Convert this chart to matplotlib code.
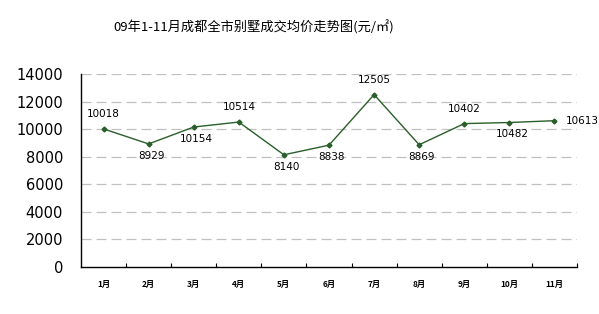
import matplotlib
matplotlib.use("Agg")
import matplotlib.pyplot as plt

plt.rcParams['font.family'] = ['Noto Sans CJK SC', 'DejaVu Sans']

months = ["1月", "2月", "3月", "4月", "5月", "6月", "7月", "8月", "9月", "10月", "11月"]
prices = [10018, 8929, 10154, 10514, 8140, 8838, 12505, 8869, 10402, 10482, 10613]
label_pos = ["above", "below", "below", "above", "below", "below", "above", "below", "above", "below", "right"]
yticks = [0, 2000, 4000, 6000, 8000, 10000, 12000, 14000]
title = "09年1-11月成都全市别墅成交均价走势图(元/㎡)"

fig = plt.figure(figsize=(5.99, 3.14), dpi=100)
ax = fig.add_axes([0.1352, 0.1497, 0.8281, 0.6146])

x = list(range(len(months)))
ax.plot(x, prices, color="#2a5e2a", lw=1.0, marker="D", ms=2.5, mfc="#2a5e2a", mec="#2a5e2a")

for xi, v, pos in zip(x, prices, label_pos):
    if pos == "above":
        ax.annotate(str(v), (xi, v), xytext=(0, 7), textcoords="offset points",
                    ha="center", va="bottom", fontsize=7.5, family="DejaVu Sans")
    elif pos == "below":
        ax.annotate(str(v), (xi, v), xytext=(2, -5), textcoords="offset points",
                    ha="center", va="top", fontsize=7.5, family="DejaVu Sans")
    else:
        ax.annotate(str(v), (xi, v), xytext=(8, 0), textcoords="offset points",
                    ha="left", va="center", fontsize=7.5, family="DejaVu Sans")

ax.set_xlim(-0.5, len(months) - 0.5)
ax.set_ylim(0, 14000)
ax.set_yticks(yticks)
ax.set_yticklabels([str(t) for t in yticks], fontsize=10.5, family="DejaVu Sans")
ax.set_xticks(x)
ax.set_xticklabels(months, fontsize=6, fontweight="bold")
ax.tick_params(axis="x", length=0, pad=9)
ax.tick_params(axis="y", length=0, pad=13)
# minor ticks at category boundaries
ax.set_xticks([i + 0.5 for i in range(len(months))], minor=True)
ax.tick_params(axis="x", which="minor", direction="in", length=3, width=0.8, color="black")

for t in yticks[1:]:
    ax.axhline(t, color="#c0c0c0", lw=0.9, ls=(0, (8, 4)), zorder=0)

ax.spines["top"].set_visible(False)
ax.spines["right"].set_visible(False)
ax.spines["left"].set_linewidth(1.0)
ax.spines["bottom"].set_linewidth(1.0)

fig.text(0.423, 0.912, title, ha="center", va="center", fontsize=9.5)

fig.savefig("out.png", dpi=100)
